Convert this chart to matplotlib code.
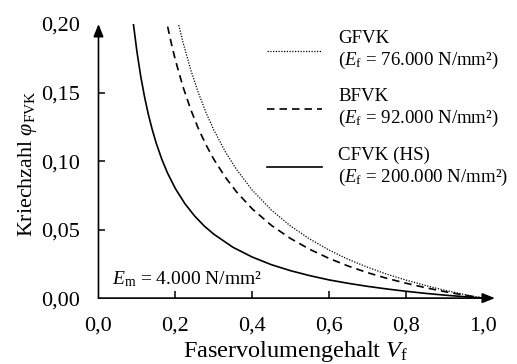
import matplotlib
matplotlib.use("Agg")
import matplotlib.pyplot as plt

plt.rcParams['font.family'] = ['Liberation Serif', 'DejaVu Serif']
plt.rcParams['mathtext.fontset'] = 'custom'
plt.rcParams['mathtext.rm'] = 'Liberation Serif'
plt.rcParams['mathtext.it'] = 'Liberation Serif:italic'

# Data
vf_cfvk = [0.091, 0.10, 0.11, 0.12, 0.13, 0.14, 0.15, 0.165, 0.18, 0.20, 0.225, 0.25, 0.275,
           0.30, 0.35, 0.40, 0.45, 0.50, 0.55, 0.60, 0.65, 0.70, 0.75, 0.80, 0.85, 0.90, 0.95, 1.00]
phi_cfvk = [0.1998, 0.1800, 0.1618, 0.1467, 0.1338, 0.1229, 0.1133, 0.1012, 0.0911, 0.0800,
            0.0689, 0.0600, 0.0527, 0.0467, 0.0371, 0.0300, 0.0244, 0.0200, 0.0164, 0.0133,
            0.0108, 0.0086, 0.0067, 0.0050, 0.0035, 0.0022, 0.0011, 0.0]

vf_bfvk = [0.18, 0.19, 0.20, 0.22, 0.24, 0.26, 0.28, 0.30, 0.33, 0.36, 0.40, 0.45, 0.50,
           0.55, 0.60, 0.65, 0.70, 0.75, 0.80, 0.85, 0.90, 0.95, 1.00]
phi_bfvk = [0.1981, 0.1854, 0.1739, 0.1542, 0.1377, 0.1237, 0.1118, 0.1014, 0.0883, 0.0773,
            0.0652, 0.0531, 0.0435, 0.0356, 0.0290, 0.0234, 0.0186, 0.0145, 0.0109, 0.0077,
            0.0048, 0.0023, 0.0]

vf_gfvk = [0.209, 0.22, 0.24, 0.26, 0.28, 0.30, 0.33, 0.36, 0.40, 0.45, 0.50, 0.55, 0.60,
           0.65, 0.70, 0.75, 0.80, 0.85, 0.90, 0.95, 1.00]
phi_gfvk = [0.1992, 0.1866, 0.1667, 0.1498, 0.1353, 0.1228, 0.1069, 0.0936, 0.0789, 0.0643,
            0.0526, 0.0431, 0.0351, 0.0283, 0.0226, 0.0175, 0.0132, 0.0093, 0.0058, 0.0028, 0.0]

x_ticks = [0.0, 0.2, 0.4, 0.6, 0.8, 1.0]
x_ticklabels = ['0,0', '0,2', '0,4', '0,6', '0,8', '1,0']
y_ticks = [0.0, 0.05, 0.10, 0.15, 0.20]
y_ticklabels = ['0,00', '0,05', '0,10', '0,15', '0,20']

labels = ['GFVK\n($E_\\mathrm{f}$ = 76.000 N/mm²)',
          'BFVK\n($E_\\mathrm{f}$ = 92.000 N/mm²)',
          'CFVK (HS)\n($E_\\mathrm{f}$ = 200.000 N/mm²)']

fig = plt.figure(figsize=(5.17, 3.64), dpi=100)
ax = fig.add_axes([0.1905, 0.181, 0.743, 0.753])

l1, = ax.plot(vf_gfvk, phi_gfvk, color='black', lw=0.9, linestyle=(0, (1, 1.2)))
l2, = ax.plot(vf_bfvk, phi_bfvk, color='black', lw=1.2, linestyle=(0, (4.5, 3)))
l3, = ax.plot(vf_cfvk, phi_cfvk, color='black', lw=1.2, linestyle='-')

ax.set_xlim(0, 1.0)
ax.set_ylim(0, 0.2)
for s in ax.spines.values():
    s.set_visible(False)

ax.set_xticks(x_ticks)
ax.set_xticklabels(x_ticklabels)
ax.set_yticks(y_ticks)
ax.set_yticklabels(y_ticklabels)
ax.tick_params(direction='in', length=5, width=1.1, labelsize=16, colors='black')
ax.tick_params(axis='x', pad=13)
ax.tick_params(axis='y', pad=13)
xt = ax.xaxis.get_major_ticks()
xt[0].tick1line.set_visible(False)
xt[-1].tick1line.set_visible(False)
yt = ax.yaxis.get_major_ticks()
yt[0].tick1line.set_visible(False)
yt[-1].tick1line.set_visible(False)

# axis arrows
ax.annotate('', xy=(1.032, 0), xytext=(0, 0), xycoords='axes fraction',
            arrowprops=dict(arrowstyle='-|>,head_length=0.75,head_width=0.3', color='black', lw=1.2,
                            shrinkA=0, shrinkB=0), annotation_clip=False)
ax.annotate('', xy=(0, 1.0), xytext=(0, 0), xycoords='axes fraction',
            arrowprops=dict(arrowstyle='-|>,head_length=0.75,head_width=0.3', color='black', lw=1.2,
                            shrinkA=0, shrinkB=0), annotation_clip=False)

ax.set_xlabel('Faservolumengehalt $V_\\mathrm{f}$', fontsize=17.5)
ax.xaxis.label.set_va('baseline')
ax.xaxis.set_label_coords(0.514, -0.214)
ax.set_ylabel('Kriechzahl $\\varphi_\\mathrm{FVK}$', fontsize=15.8)
ax.yaxis.set_label_coords(-0.155, 0.49)

ax.text(0.035, 0.07, '$E_\\mathrm{m}$ = 4.000 N/mm²', transform=ax.transAxes, fontsize=14,
        ha='left', va='center')

leg = ax.legend([l1, l2, l3], labels, loc='upper left', bbox_to_anchor=(0.42, 1.005),
                frameon=False, fontsize=13.6, handlelength=2.9, handletextpad=0.85,
                labelspacing=0.9, borderaxespad=0)

fig.savefig('out.png', dpi=100)
